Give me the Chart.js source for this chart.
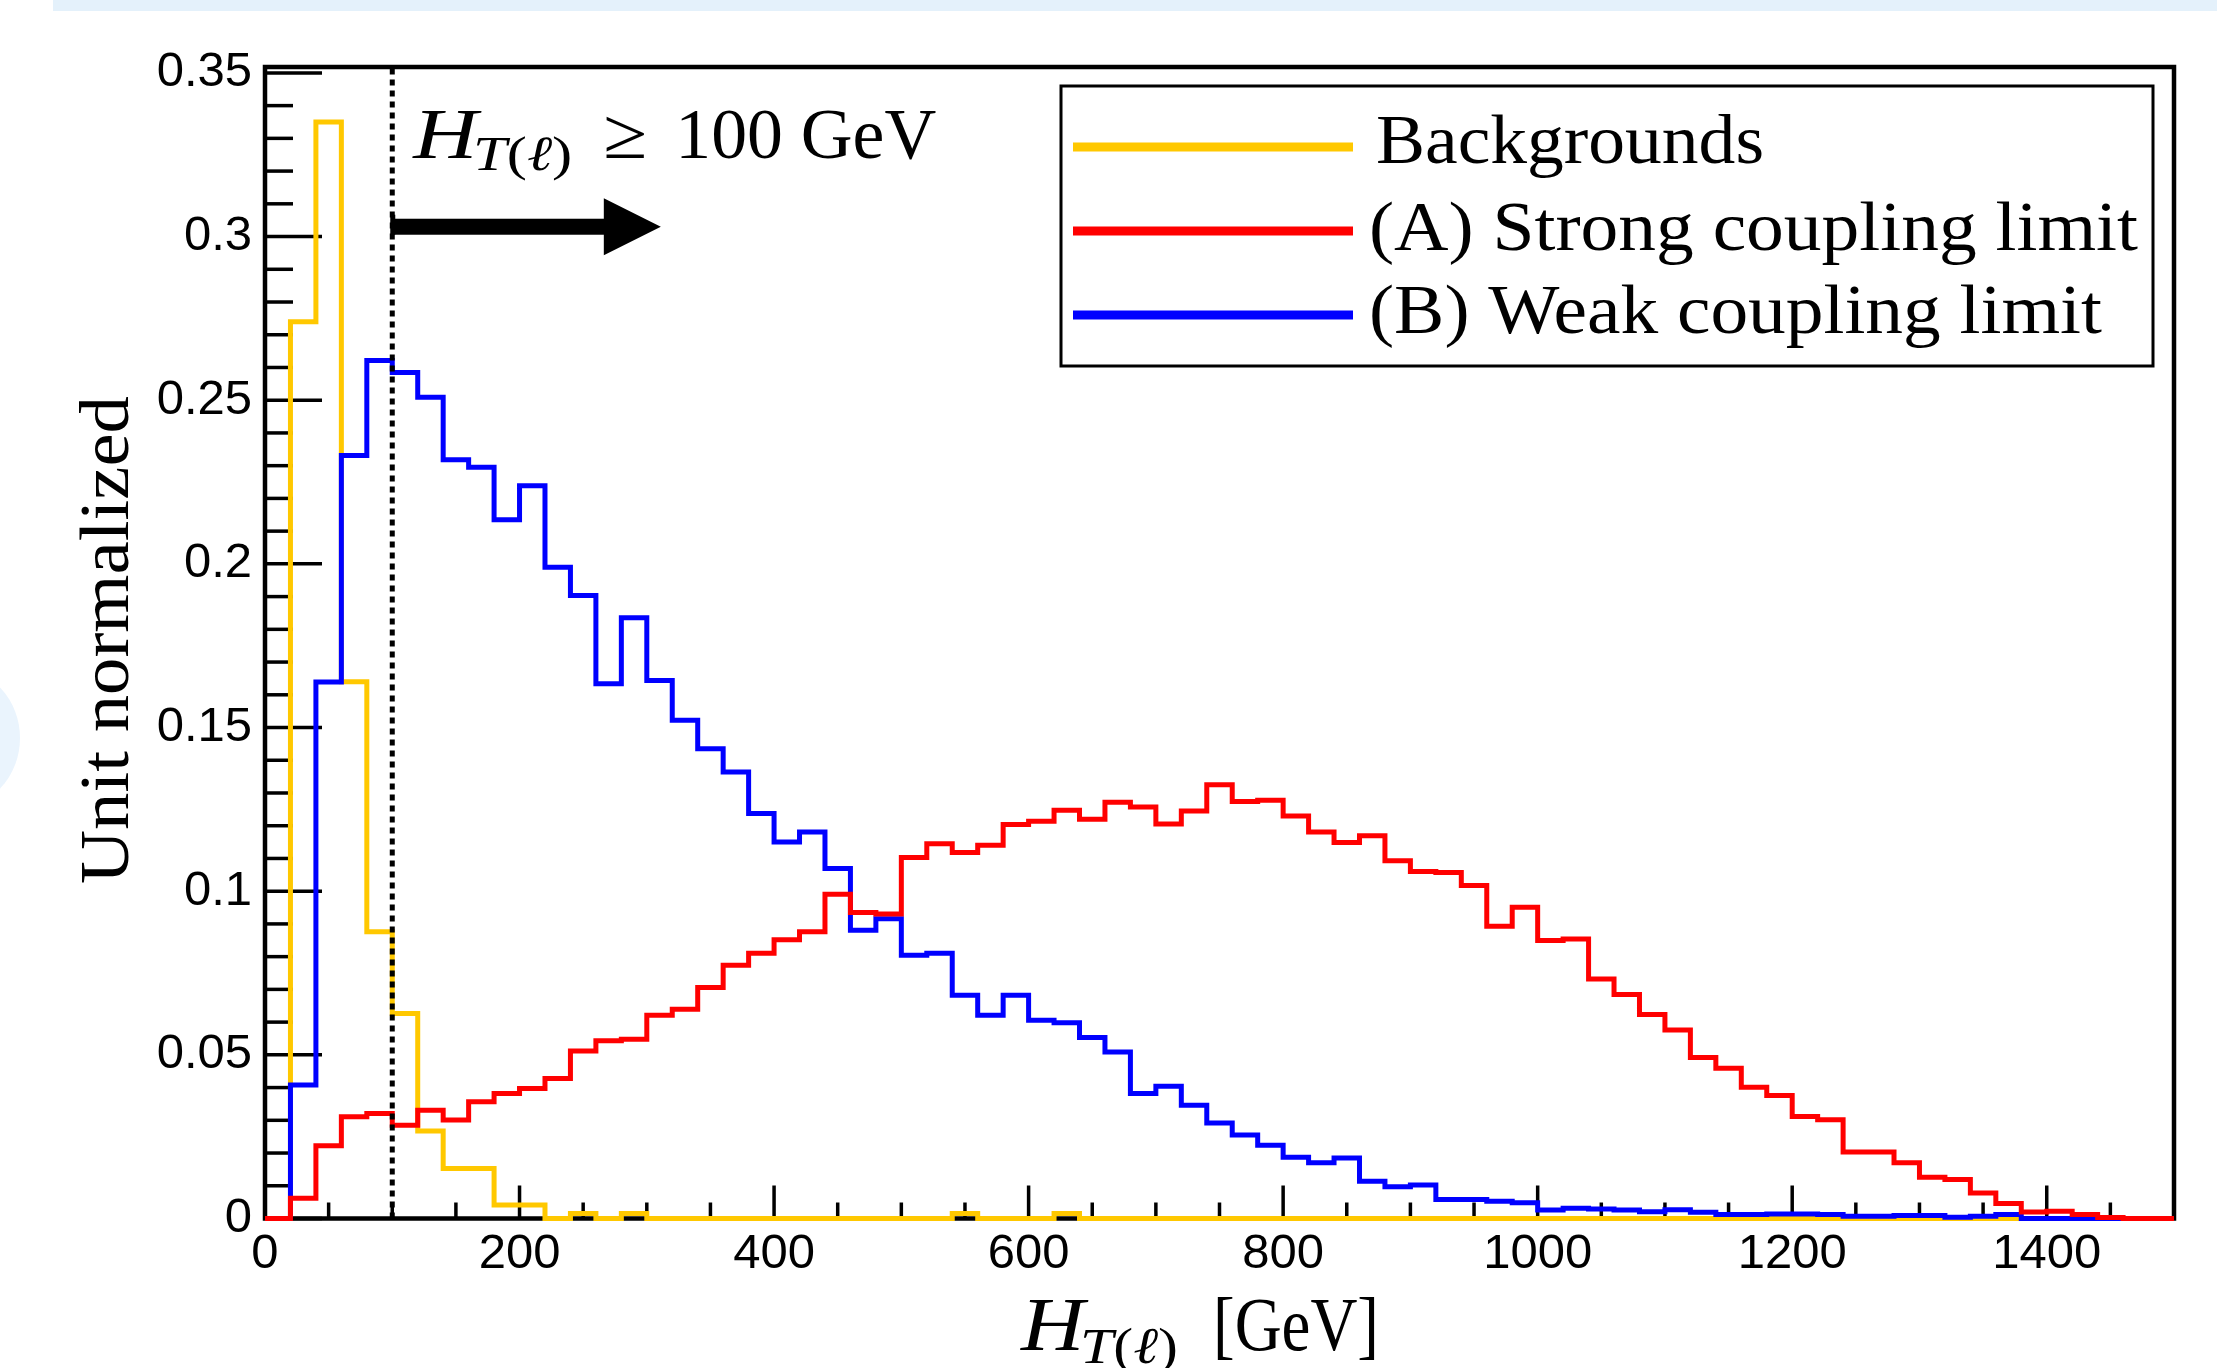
<!DOCTYPE html>
<html>
<head>
<meta charset="utf-8">
<script src="https://cdn.jsdelivr.net/npm/chart.js@4.4.1/dist/chart.umd.min.js"></script>
<style>
html,body{margin:0;padding:0;background:#fff;overflow:hidden;}
#wrap{position:relative;width:2217px;height:1368px;background:#fff;}
#topband{position:absolute;left:53px;top:0;width:2164px;height:11px;background:#e4f1fb;}
#arc{position:absolute;left:-110px;top:668px;width:130px;height:140px;border-radius:50%;background:#eaf4fd;}
#c{position:absolute;left:0;top:0;}
</style>
</head>
<body>
<div id="wrap"><div id="topband"></div><div id="arc"></div><canvas id="c" width="2217" height="1368"></canvas></div>
<script>
// ---------------- DATA ----------------
const binWidth = 20;
const binLowEdges = [
  0,20,40,60,80,100,120,140,160,180,
  200,220,240,260,280,300,320,340,360,380,
  400,420,440,460,480,500,520,540,560,580,
  600,620,640,660,680,700,720,740,760,780,
  800,820,840,860,880,900,920,940,960,980,
  1000,1020,1040,1060,1080,1100,1120,1140,1160,1180,
  1200,1220,1240,1260,1280,1300,1320,1340,1360,1380,
  1400,1420,1440,1460,1480
];
const backgrounds = [
  0, 0.274, 0.335, 0.164, 0.0876, 0.0626, 0.0267, 0.0153, 0.0153, 0.0041,
  0.0041, 0, 0.0015, 0, 0.0015, 0, 0, 0, 0, 0,
  0, 0, 0, 0, 0, 0, 0, 0.0015, 0, 0,
  0, 0.0015, 0, 0, 0, 0, 0, 0, 0, 0,
  0, 0, 0, 0, 0, 0, 0, 0, 0, 0,
  0, 0, 0, 0, 0, 0, 0, 0, 0, 0,
  0, 0, 0, 0, 0, 0, 0, 0, 0, 0,
  0, 0, 0, 0, 0
];
const strongCoupling = [
  0, 0.0062, 0.0222, 0.0311, 0.0321, 0.0285, 0.0331, 0.0301, 0.0357, 0.0382,
  0.0397, 0.0428, 0.0512, 0.0543, 0.0548, 0.0621, 0.0639, 0.0706, 0.0774, 0.081,
  0.0852, 0.0876, 0.0991, 0.0935, 0.093, 0.1103, 0.1145, 0.1118, 0.114, 0.1204,
  0.1214, 0.1247, 0.122, 0.1272, 0.1257, 0.1205, 0.1245, 0.1325, 0.1274, 0.1278,
  0.123, 0.1181, 0.1149, 0.1169, 0.1093, 0.106, 0.1057, 0.1017, 0.0893, 0.0951,
  0.0849, 0.0854, 0.0732, 0.0684, 0.0623, 0.0576, 0.0492, 0.0459, 0.0401, 0.0376,
  0.0312, 0.0302, 0.0203, 0.0203, 0.017, 0.0126, 0.0119, 0.0078, 0.0046, 0.002,
  0.0022, 0.0012, 0.0003, 0, 0
];
const weakCoupling = [
  0, 0.0408, 0.1639, 0.2331, 0.2621, 0.2585, 0.2509, 0.2318, 0.2295, 0.2135,
  0.2239, 0.199, 0.1903, 0.1634, 0.1835, 0.1644, 0.1522, 0.1435, 0.1364, 0.1237,
  0.115, 0.1181, 0.1069, 0.0881, 0.0916, 0.0804, 0.081, 0.0682, 0.0621, 0.0682,
  0.0606, 0.0598, 0.0553, 0.0509, 0.0382, 0.0404, 0.0346, 0.0292, 0.0255, 0.0224,
  0.0187, 0.017, 0.0185, 0.0114, 0.0097, 0.0102, 0.0058, 0.0058, 0.0053, 0.0048,
  0.0026, 0.0031, 0.0029, 0.0026, 0.0021, 0.0027, 0.0019, 0.0012, 0.0012, 0.0014,
  0.0014, 0.0012, 0.0007, 0.0007, 0.0009, 0.0009, 0.0004, 0.0007, 0.0012, 0,
  0, 0, 0, 0, 0
];
const seriesLabels = ['Backgrounds', '(A) Strong coupling limit', '(B) Weak coupling limit'];
const xTickLabels = ['0','200','400','600','800','1000','1200','1400'];
const yTickLabels = ['0','0.05','0.1','0.15','0.2','0.25','0.3','0.35'];
const cutValue = 100;          // H_T(l) >= 100 GeV selection
const arrowEndValue = 311;     // arrow tip (GeV)
const arrowLevel = 0.303;      // arrow height (axis units)

// ---------------- AXIS SETTINGS ----------------
const X_MIN = 0, X_MAX = 1500, X_MAJOR = 200, X_MINOR = 50;
const Y_MIN = 0, Y_MAX = 0.3518, Y_MAJOR = 0.05, Y_MINOR = 0.01;

function histPoints(vals) {
  const n = binLowEdges.length;
  const pts = [{x: binLowEdges[0], y: vals[0]}];
  for (let i = 0; i < n; i++) pts.push({x: binLowEdges[i] + binWidth / 2, y: vals[i]});
  pts.push({x: binLowEdges[n - 1] + binWidth, y: vals[n - 1]});
  return pts;
}

const SERIF = '"Liberation Serif", "DejaVu Serif", serif';
const SANS = '"Liberation Sans", Arial, sans-serif';

function drawHT(ctx, x, base, size, targetW) {
  const sub = size * 0.68;
  const sb = base + size * 0.17;
  const parts = [
    {t: 'H', f: `italic ${size}px ${SERIF}`, y: 0, k: 0},
    {t: 'T', f: `italic ${sub}px ${SERIF}`, y: sb - base, k: -size * 0.05},
    {t: '(', f: `${sub}px ${SERIF}`, y: sb - base, k: 0},
    {t: '\u2113', f: `italic ${sub}px ${SERIF}`, y: sb - base, k: 0},
    {t: ')', f: `${sub}px ${SERIF}`, y: sb - base, k: 0}
  ];
  let w = 0;
  parts.forEach(p => { ctx.font = p.f; p.w = ctx.measureText(p.t).width; w += p.w + p.k; });
  const s = targetW ? targetW / w : 1;
  ctx.save();
  ctx.translate(x, base);
  ctx.scale(s, 1);
  let cx = 0;
  ctx.textAlign = 'left';
  ctx.textBaseline = 'alphabetic';
  parts.forEach(p => { ctx.font = p.f; cx += p.k; ctx.fillText(p.t, cx, p.y); cx += p.w; });
  ctx.restore();
  return w * s;
}

function fitText(ctx, text, x, base, font, targetW) {
  ctx.font = font;
  const w = ctx.measureText(text).width;
  const s = targetW ? targetW / w : 1;
  ctx.save();
  ctx.translate(x, base);
  ctx.scale(s, 1);
  ctx.textAlign = 'left';
  ctx.textBaseline = 'alphabetic';
  ctx.fillText(text, 0, 0);
  ctx.restore();
}

const decor = {
  id: 'decor',
  beforeDatasetsDraw(chart) {
    const {ctx, chartArea: a, scales: {x, y}} = chart;
    ctx.save();
    ctx.strokeStyle = '#000';
    ctx.lineWidth = 3.5;
    for (let k = 0; X_MIN + k * X_MINOR <= X_MAX + 1e-9; k++) {
      const v = X_MIN + k * X_MINOR;
      const px = x.getPixelForValue(v);
      const major = (k * X_MINOR) % X_MAJOR === 0;
      ctx.beginPath();
      ctx.moveTo(px, a.bottom);
      ctx.lineTo(px, a.bottom - (major ? 33 : 16));
      ctx.stroke();
    }
    const per = Math.round(Y_MAJOR / Y_MINOR);
    for (let k = 0; Y_MIN + k * Y_MINOR <= Y_MAX + 1e-9; k++) {
      const v = Y_MIN + k * Y_MINOR;
      const py = y.getPixelForValue(v);
      const major = k % per === 0;
      ctx.beginPath();
      ctx.moveTo(a.left, py);
      ctx.lineTo(a.left + (major ? 57 : 28), py);
      ctx.stroke();
    }
    ctx.lineWidth = 4.5;
    ctx.strokeRect(a.left, a.top, a.right - a.left, a.bottom - a.top);
    ctx.restore();
  },
  afterDatasetsDraw(chart) {
    const {ctx, chartArea: a, scales: {x, y}} = chart;
    ctx.save();
    // dotted cut line
    const cx = x.getPixelForValue(cutValue);
    ctx.strokeStyle = '#000';
    ctx.lineWidth = 5;
    ctx.setLineDash([6, 5]);
    ctx.beginPath();
    ctx.moveTo(cx, y.getPixelForValue(0));
    ctx.lineTo(cx, a.top);
    ctx.stroke();
    ctx.setLineDash([]);
    // arrow
    const ay = y.getPixelForValue(arrowLevel);
    const tip = x.getPixelForValue(arrowEndValue);
    const headLen = 57, headHalf = 28.5, shaft = 16;
    ctx.fillStyle = '#000';
    ctx.fillRect(cx, ay - shaft / 2, tip - headLen - cx + 1, shaft);
    ctx.fillRect(cx - 2, ay - shaft / 2 - 4, 5, shaft + 4);
    ctx.beginPath();
    ctx.moveTo(tip - headLen, ay - headHalf);
    ctx.lineTo(tip, ay);
    ctx.lineTo(tip - headLen, ay + headHalf);
    ctx.closePath();
    ctx.fill();
    // annotation text
    ctx.fillStyle = '#000';
    const tx = cx + 21, tb = a.top + 91;
    drawHT(ctx, tx, tb, 72, 159);
    fitText(ctx, '\u2265', tx + 190, tb, `72px ${SERIF}`, 44);
    fitText(ctx, '100 GeV', tx + 262, tb, `72px ${SERIF}`, 261);
    // x axis title
    drawHT(ctx, 1021, 1350, 76, 157);
    fitText(ctx, '[GeV]', 1213, 1350, `76px ${SERIF}`, 166);
    // y axis title
    ctx.save();
    ctx.translate(128, 640);
    ctx.rotate(-Math.PI / 2);
    ctx.font = `70px ${SERIF}`;
    const yt = 'Unit normalized';
    const yw = ctx.measureText(yt).width;
    ctx.scale(488 / yw, 1);
    ctx.textAlign = 'center';
    ctx.textBaseline = 'alphabetic';
    ctx.fillText(yt, 0, 0);
    ctx.restore();
    // legend
    ctx.lineWidth = 3;
    ctx.strokeStyle = '#000';
    ctx.strokeRect(1061, 86, 1092, 280);
    const rows = [
      {ly: 147, tx: 1376, tb: 163, tw: 388},
      {ly: 231, tx: 1369, tb: 250, tw: 769},
      {ly: 315, tx: 1369, tb: 333, tw: 733}
    ];
    const byLabel = {};
    chart.data.datasets.forEach(d => { byLabel[d.label] = d; });
    seriesLabels.forEach((lab, i) => {
      const d = byLabel[lab];
      const r = rows[i];
      ctx.strokeStyle = d.borderColor;
      ctx.lineWidth = 9;
      ctx.beginPath();
      ctx.moveTo(1073, r.ly);
      ctx.lineTo(1353, r.ly);
      ctx.stroke();
      ctx.fillStyle = '#000';
      fitText(ctx, lab, r.tx, r.tb, `70px ${SERIF}`, r.tw);
    });
    ctx.restore();
  }
};

const ds = (label, vals, color, order) => ({
  label, data: histPoints(vals), borderColor: color, backgroundColor: color,
  borderWidth: 5, pointRadius: 0, pointHoverRadius: 0, stepped: 'middle',
  tension: 0, fill: false, clip: false, order
});

new Chart(document.getElementById('c'), {
  type: 'line',
  data: {
    datasets: [
      ds(seriesLabels[0], backgrounds, '#ffc800', 2),
      ds(seriesLabels[1], strongCoupling, '#ff0000', 0),
      ds(seriesLabels[2], weakCoupling, '#0000ff', 1)
    ]
  },
  options: {
    responsive: false,
    animation: false,
    events: [],
    layout: {padding: {top: 67, right: 43, left: 0, bottom: 0}},
    plugins: {legend: {display: false}, tooltip: {enabled: false}, title: {display: false}},
    scales: {
      x: {
        type: 'linear', min: X_MIN, max: X_MAX,
        grid: {display: false, drawTicks: false},
        border: {display: false},
        ticks: {
          stepSize: X_MAJOR, includeBounds: false, autoSkip: false, maxRotation: 0,
          color: '#000', padding: 7, font: {family: SANS, size: 49},
          callback: (v) => xTickLabels[Math.round(v / X_MAJOR)] ?? ''
        },
        afterFit: (s) => { s.height = 149.5; }
      },
      y: {
        type: 'linear', min: Y_MIN, max: Y_MAX,
        grid: {display: false, drawTicks: false},
        border: {display: false},
        ticks: {
          stepSize: Y_MAJOR, includeBounds: false, autoSkip: false,
          color: '#000', padding: 13, font: {family: SANS, size: 49},
          callback: (v) => yTickLabels[Math.round(v / Y_MAJOR)] ?? ''
        },
        afterFit: (s) => { s.width = 265; }
      }
    }
  },
  plugins: [decor]
});
</script>
</body>
</html>
